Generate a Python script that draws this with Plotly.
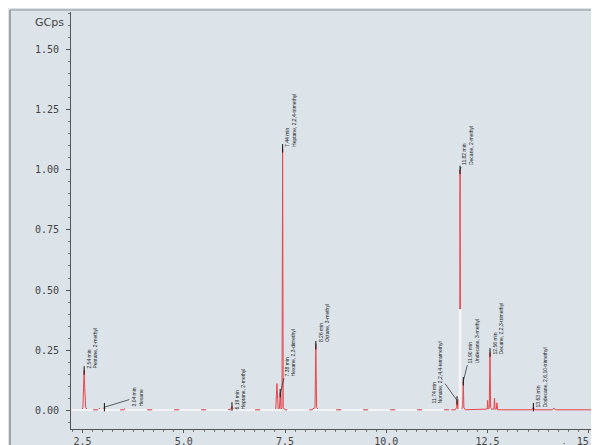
import plotly.graph_objects as go

# ---- chromatogram trace (minutes, GCps) ----
time = [2.22, 2.48, 2.51, 2.53, 2.54, 2.555, 2.58, 2.62, 2.90, 2.92, 2.94,
        3.02, 3.04, 3.06, 3.52, 3.54, 3.56, 6.00, 6.16, 6.19, 6.22, 6.60,
        7.27, 7.30, 7.33, 7.36, 7.38, 7.40, 7.425, 7.44, 7.455, 7.48, 7.52,
        8.15, 8.24, 8.26, 8.28, 8.33, 9.00, 11.70, 11.735, 11.745, 11.765,
        11.78, 11.795, 11.81, 11.82, 11.835, 11.86, 11.885, 11.90, 11.915,
        11.95, 12.45, 12.49, 12.50, 12.515, 12.54, 12.56, 12.575, 12.60,
        12.655, 12.67, 12.685, 12.715, 12.73, 12.75, 13.60, 13.63, 13.66,
        14.10, 14.14, 14.18, 15.30]
signal = [0.001, 0.001, 0.01, 0.10, 0.165, 0.09, 0.01, 0.001, 0.001, 0.008, 0.001,
          0.001, 0.012, 0.001, 0.001, 0.006, 0.001, 0.001, 0.003, 0.015, 0.003, 0.001,
          0.001, 0.11, 0.003, 0.006, 0.07, 0.004, 0.01, 1.09, 0.01, 0.004, 0.001,
          0.001, 0.01, 0.27, 0.01, 0.001, 0.001, 0.001, 0.01, 0.04, 0.005,
          0.045, 0.005, 0.02, 1.00, 0.02, 0.004, 0.01, 0.12, 0.01,
          0.001, 0.001, 0.004, 0.04, 0.004, 0.01, 0.24, 0.01, 0.003,
          0.004, 0.05, 0.004, 0.004, 0.03, 0.001, 0.001, 0.012, 0.001,
          0.001, 0.008, 0.001, 0.001]

# ---- identified peaks ----
peak_rt = [2.54, 3.04, 6.19, 7.38, 7.44, 8.26, 11.745, 11.82, 11.90, 12.56, 13.63]
peak_h = [0.165, 0.012, 0.015, 0.07, 1.09, 0.27, 0.04, 1.00, 0.12, 0.24, 0.012]
peak_name = ["Pentane, 2-methyl", "Hexane", "Heptane, 2-methyl",
             "Hexane, 2,3-dimethyl", "Heptane, 2,2,4-trimethyl",
             "Octane, 3-methyl", "Nonane, 2,2,4,4-tetramethyl",
             "Decane, 2-methyl", "Undecane, 3-methyl",
             "Decane, 2,2,3-trimethyl", "Dodecane, 2,6,10-trimethyl"]
label_dx = [8, 33, 8, 10, 8, 8, -20, 8, 10, 8, 8]
label_dy = [-22, -10, -18, -40, -28, -22, -28, -24, -40, -24, -30]

baseline_t = [2.22, 11.60]
baseline_v = [0.0, 0.0]

fig = go.Figure()
fig.add_trace(go.Scatter(x=time, y=signal, mode="lines",
                         line=dict(color="#e8464b", width=1),
                         hoverinfo="skip", showlegend=False))
fig.add_trace(go.Scatter(x=baseline_t, y=baseline_v, mode="lines",
                         line=dict(color="#f2f4f5", width=2, dash="22px,5px"),
                         hoverinfo="skip", showlegend=False))
# light integration strip on the big peak
fig.add_trace(go.Scatter(x=[peak_rt[7], peak_rt[7]], y=[0, 0.42], mode="lines",
                         line=dict(color="#f2f4f5", width=3),
                         hoverinfo="skip", showlegend=False))
fig.add_trace(go.Scatter(x=peak_rt, y=peak_h, mode="markers",
                         marker=dict(symbol="line-ns-open", size=6, color="#111",
                                     line=dict(width=1, color="#111")),
                         hoverinfo="skip", showlegend=False))

for rt, h, nm, dx, dy in zip(peak_rt, peak_h, peak_name, label_dx, label_dy):
    fig.add_annotation(x=rt, y=h, ax=dx, ay=dy, text=f"{rt:.2f} min<br>{nm}",
                       textangle=-90, showarrow=True, arrowhead=0, arrowwidth=0.7,
                       arrowcolor="#222", font=dict(size=5, color="#222",
                                                    family="Liberation Sans"),
                       align="left", xanchor="center", yanchor="middle")

fig.add_annotation(xref="paper", yref="paper", x=-0.01, y=0.995, text="GCps",
                   showarrow=False, xanchor="right", yanchor="top",
                   font=dict(size=11, color="#444", family="DejaVu Sans"))
fig.add_annotation(xref="paper", yref="paper", x=0.913, y=-0.026, text="minutes",
                   showarrow=False, xanchor="left", yanchor="top",
                   font=dict(size=10, color="#444", family="DejaVu Sans Mono"))

# outer frame
fig.add_shape(type="line", xref="paper", yref="paper", x0=-0.1155, x1=-0.1155,
              y0=1.0048, y1=-0.1, line=dict(color="#8a9097", width=1.5))
fig.add_shape(type="line", xref="paper", yref="paper", x0=-0.1155, x1=1.02,
              y0=1.0048, y1=1.0048, line=dict(color="#8a9097", width=1))

fig.update_layout(
    width=599, height=445,
    margin=dict(l=63, r=8, t=4, b=24, autoexpand=False),
    paper_bgcolor="#dce3e9", plot_bgcolor="#dce3e9",
    font=dict(family="DejaVu Sans Mono", size=10, color="#444"),
)
fig.update_xaxes(range=[2.216, 15.25], showgrid=False, zeroline=False,
                 automargin=False,
                 showline=True, linecolor="#555", linewidth=1,
                 tickvals=[2.5, 5.0, 7.5, 10.0, 12.5, 15.0],
                 ticktext=["2.5", "5.0", "7.5", "10.0", "12.5", "15.0"],
                 ticks="outside", ticklen=3, tickcolor="#555",
                 minor=dict(dtick=0.25, tick0=0, ticks="outside", ticklen=2,
                            tickcolor="#777"))
fig.update_yaxes(range=[-0.079, 1.658], showgrid=False, zeroline=False,
                 automargin=False, ticklabelstandoff=5,
                 showline=True, linecolor="#555", linewidth=1,
                 tickvals=[0, 0.25, 0.5, 0.75, 1.0, 1.25, 1.5],
                 ticktext=["0.00", "0.25", "0.50", "0.75", "1.00", "1.25", "1.50"],
                 ticks="outside", ticklen=4, tickcolor="#555",
                 minor=dict(dtick=0.05, tick0=0, ticks="outside", ticklen=2,
                            tickcolor="#777"))

fig.write_html("out.html")
